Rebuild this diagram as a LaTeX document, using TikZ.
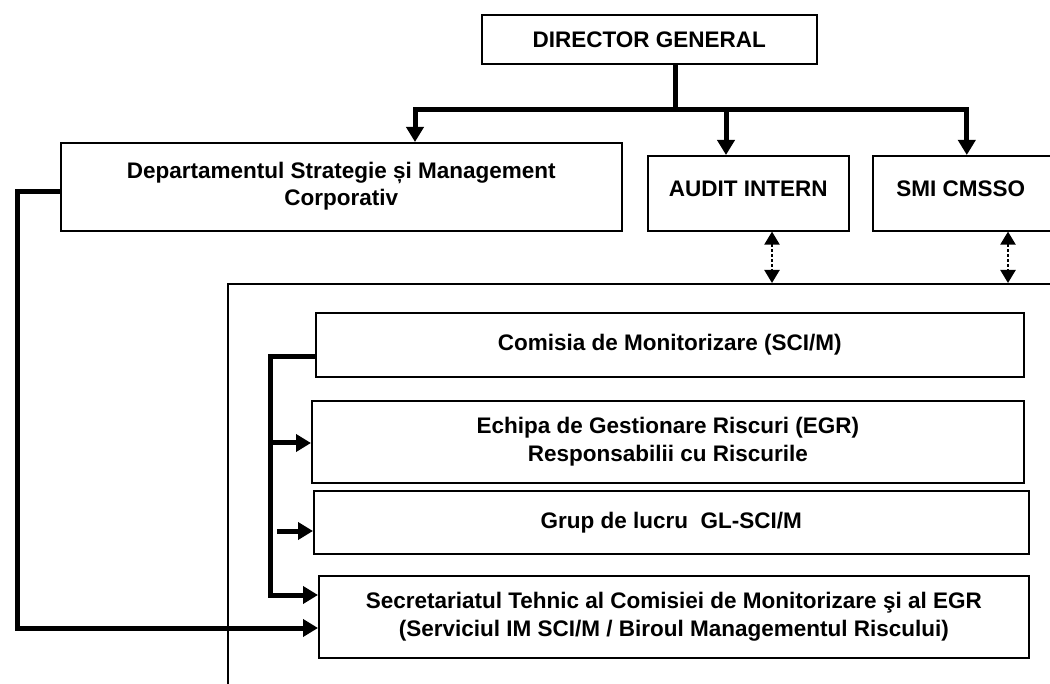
\documentclass[tikz,border=0pt]{standalone}
\usepackage{fontspec}
\setmainfont{Liberation Sans}
\usetikzlibrary{arrows.meta}
\begin{document}
\begin{tikzpicture}[x=1pt,y=-1pt,
  box/.style={draw,line width=1.6pt,inner sep=0pt,anchor=north west,
    font=\bfseries\fontsize{22.5}{28}\selectfont,align=center},
  conn/.style={line width=5pt},
  arr/.style={line width=5pt,-{Triangle[length=15pt,width=17pt]}},
  darr/.style={line width=2.2pt,dash pattern=on 2.5pt off 2.5pt,
    {Triangle[length=13pt,width=15pt]}-{Triangle[length=13pt,width=15pt]}},
  thin/.style={line width=1.6pt}]
\clip (0,0) rectangle (1050,684);
\fill[white] (0,0) rectangle (1050,684);
% boxes
\node[box,minimum width=335pt,minimum height=49pt] (dg) at (481,14) {\raisebox{-2pt}{DIRECTOR GENERAL}};
\node[box,minimum width=561pt,minimum height=88pt] (dept) at (60,142)
  {\raisebox{8pt}{\begin{tabular}{@{}c@{}}Departamentul Strategie și Management\\[-1pt]Corporativ\end{tabular}}};
\node[box,minimum width=201pt,minimum height=75pt] (audit) at (647,155) {\raisebox{9pt}{AUDIT INTERN}};
\node[box,minimum width=188pt,minimum height=75pt] (smi) at (872,155) {\raisebox{9pt}{\hspace*{-12pt}SMI CMSSO}};
\node[box,minimum width=900pt,minimum height=500pt] (frame) at (227,283) {};
\node[box,minimum width=708pt,minimum height=64pt] (com) at (315,312) {Comisia de Monitorizare (SCI/M)};
\node[box,minimum width=712pt,minimum height=82pt] (egr) at (311,400)
  {Echipa de Gestionare Riscuri (EGR)\\Responsabilii cu Riscurile};
\node[box,minimum width=715pt,minimum height=63pt] (grup) at (313,490) {Grup de lucru\ \ GL-SCI/M};
\node[box,minimum width=710pt,minimum height=82pt] (sec) at (318,575)
  {Secretariatul Tehnic al Comisiei de Monitorizare şi al EGR\\(Serviciul IM SCI/M / Biroul Managementul Riscului)};
% coordinates
\coordinate (bus) at (675,110);
\coordinate (busL) at (415,110);
\coordinate (busA) at (726,110);
\coordinate (fa) at (772,283);
\coordinate (fb) at (1008,283);
\coordinate (cm) at (315,357);
\coordinate (bk) at (270,357);
\coordinate (bkE) at (270,443);
\coordinate (gS) at (277,531);
\coordinate (bkS) at (270,595);
\coordinate (dL) at (60,192);
\coordinate (lft) at (17,192);
\coordinate (lftS) at (17,628);
% top connectors
\draw[conn] (dg.south -| bus) -- (bus);
\draw[arr] (bus) -- (busL) -- (busL |- dept.north);
\draw[arr] (bus) -| (smi.north);
\draw[arr] (busA) -- (busA |- audit.north);
\draw[darr] (audit.south -| fa) -- (fa);
\draw[darr] (smi.south -| fb) -- (fb);
% bracket
\draw[arr] (cm) -- (bk) -- (bkS) -- (sec.west |- bkS);
\draw[arr] (bkE) -- (egr.west |- bkE);
\draw[arr] (gS) -- (grup.west |- gS);
% left connector
\draw[arr] (dL) -- (lft) -- (lftS) -- (sec.west |- lftS);
\end{tikzpicture}
\end{document}
